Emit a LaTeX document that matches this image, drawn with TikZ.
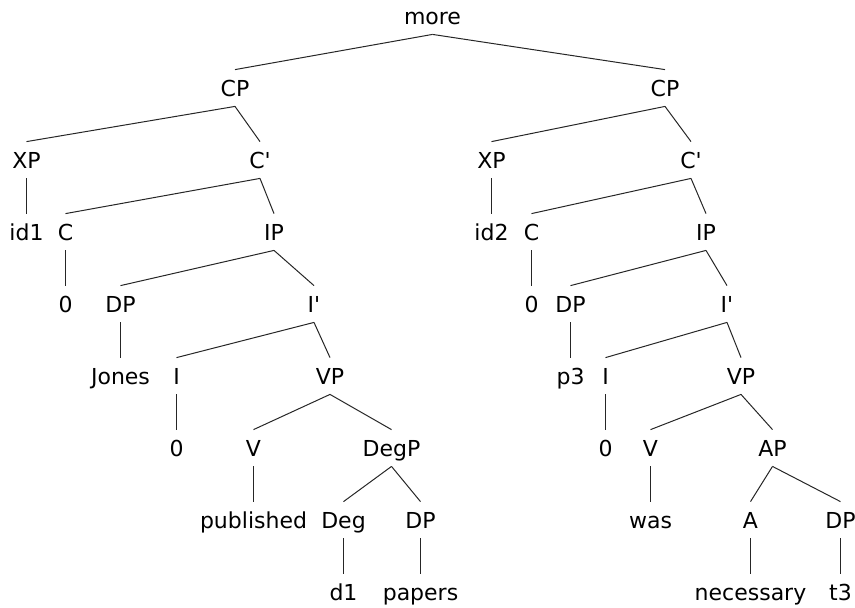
\documentclass[tikz,border=0pt]{standalone}
\usepackage{fontspec}
\setmainfont{DejaVu Sans}
\begin{document}
\begin{tikzpicture}[x=0.5pt,y=-0.5pt,
    lbl/.style={anchor=base,inner xsep=0pt,inner ysep=5pt,text height=8pt,text depth=0pt,
      font=\fontsize{11}{13}\selectfont},
    branch/.style={line width=0.5pt,black!85}]
  \useasboundingbox (0,0) rectangle (855,607);
  % top
  \node[lbl] (more) at (432.5,24) {more};
  % left clause
  \node[lbl] (cpa) at (235,96) {CP};
  \node[lbl] (xpa) at (26.5,168) {XP};
  \node[lbl] (cbara) at (260,168) {C\textquotesingle};
  \node[lbl] (ida) at (26.5,240) {id1};
  \node[lbl] (ca) at (65.5,240) {C};
  \node[lbl] (ipa) at (274,240) {IP};
  \node[lbl] (zca) at (65.5,312) {0};
  \node[lbl] (dpa) at (120.5,312) {DP};
  \node[lbl] (ibara) at (314,312) {I\textquotesingle};
  \node[lbl] (jones) at (120.5,384) {Jones};
  \node[lbl] (ia) at (176.5,384) {I};
  \node[lbl] (vpa) at (330,384) {VP};
  \node[lbl] (zia) at (176.5,456) {0};
  \node[lbl] (va) at (253.5,456) {V};
  \node[lbl] (degp) at (391.5,456) {DegP};
  \node[lbl] (published) at (253.5,528) {published};
  \node[lbl] (deg) at (343.5,528) {Deg};
  \node[lbl] (dpc) at (420.5,528) {DP};
  \node[lbl] (d1) at (343.5,600) {d1};
  \node[lbl] (papers) at (420.5,600) {papers};
  % right clause
  \node[lbl] (cpb) at (665,96) {CP};
  \node[lbl] (xpb) at (491.5,168) {XP};
  \node[lbl] (cbarb) at (691,168) {C\textquotesingle};
  \node[lbl] (idb) at (491.5,240) {id2};
  \node[lbl] (cb) at (531.5,240) {C};
  \node[lbl] (ipb) at (706,240) {IP};
  \node[lbl] (zcb) at (531.5,312) {0};
  \node[lbl] (dpb) at (570.5,312) {DP};
  \node[lbl] (ibarb) at (727,312) {I\textquotesingle};
  \node[lbl] (p3) at (570.5,384) {p3};
  \node[lbl] (ib) at (605.5,384) {I};
  \node[lbl] (vpb) at (741,384) {VP};
  \node[lbl] (zib) at (605.5,456) {0};
  \node[lbl] (vb) at (650.5,456) {V};
  \node[lbl] (ap) at (772.5,456) {AP};
  \node[lbl] (was) at (650.5,528) {was};
  \node[lbl] (adj) at (750.5,528) {A};
  \node[lbl] (dpd) at (840.5,528) {DP};
  \node[lbl] (necessary) at (750.5,600) {necessary};
  \node[lbl] (t3) at (840.5,600) {t3};
  % branches
  \foreach \p/\c in {more/cpa,more/cpb,
      cpa/xpa,cpa/cbara,xpa/ida,cbara/ca,cbara/ipa,ca/zca,ipa/dpa,ipa/ibara,
      dpa/jones,ibara/ia,ibara/vpa,ia/zia,vpa/va,vpa/degp,va/published,
      degp/deg,degp/dpc,deg/d1,dpc/papers,
      cpb/xpb,cpb/cbarb,xpb/idb,cbarb/cb,cbarb/ipb,cb/zcb,ipb/dpb,ipb/ibarb,
      dpb/p3,ibarb/ib,ibarb/vpb,ib/zib,vpb/vb,vpb/ap,vb/was,
      ap/adj,ap/dpd,adj/necessary,dpd/t3}
    \draw[branch] (\p.south) -- (\c.north);
\end{tikzpicture}
\end{document}
